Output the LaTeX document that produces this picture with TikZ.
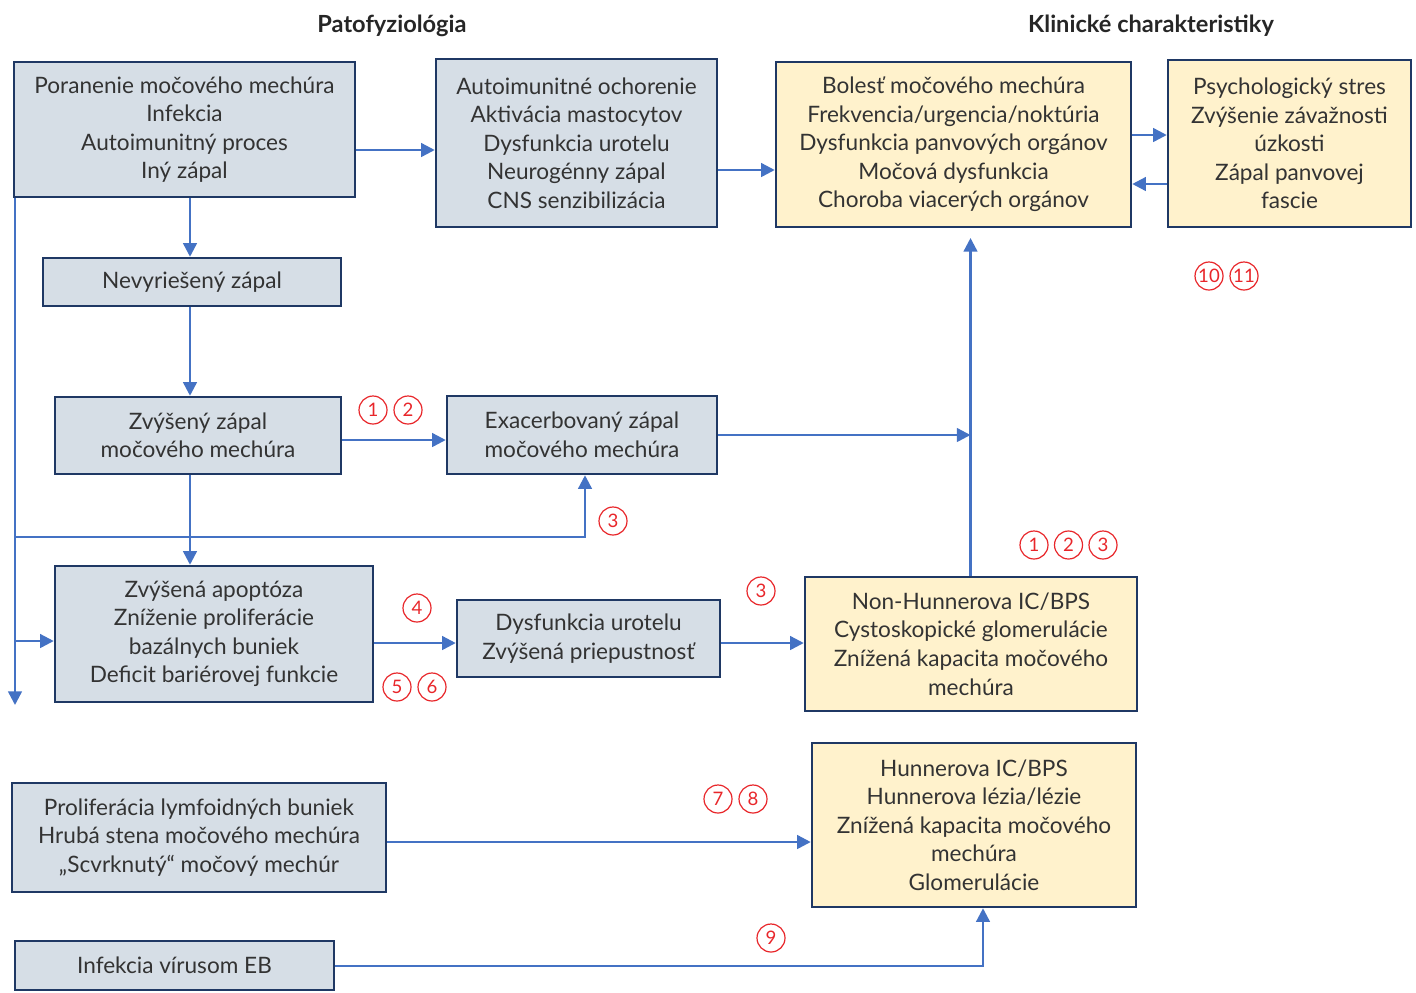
\documentclass[tikz,border=0pt]{standalone}
\usepackage{fontspec}
\setmainfont{Lato}
\usetikzlibrary{arrows.meta}
\definecolor{boxgray}{HTML}{D6DEE6}
\definecolor{boxyel}{HTML}{FFF2CC}
\definecolor{navy}{HTML}{1F3864}
\definecolor{arrblue}{HTML}{4472C4}
\definecolor{numred}{HTML}{E8262A}
\definecolor{txt}{HTML}{333333}
\tikzset{
  basebox/.style={draw=navy, line width=1.25pt, align=center, inner sep=0pt, text=txt,
    font=\fontsize{11.3pt}{14.25pt}\selectfont},
  gbox/.style={basebox, fill=boxgray},
  ybox/.style={basebox, fill=boxyel},
  arr/.style={draw=arrblue, line width=1.2pt, -{Triangle[length=6.8pt,width=6.8pt]}},
  num/.style={draw=numred, text=numred, circle, line width=0.6pt, minimum size=14pt, inner sep=0pt,
    font=\fontsize{9.3pt}{9.3pt}\selectfont},
  head/.style={font=\fontsize{11.8pt}{13pt}\selectfont\bfseries, text=black!85}
}
\begin{document}
\begin{tikzpicture}[x=0.5pt,y=-0.5pt]
\useasboundingbox (0,0) rectangle (1416,992);
\node[head] (h1) at (392,26) {Patofyziológia};
\node[head] (h2) at (1151,26) {Klinické charakteristiky};

\node[gbox, minimum width=170.5pt, minimum height=67.5pt] (A) at (184.5,129.5)
  {Poranenie močového mechúra\\Infekcia\\Autoimunitný proces\\Iný zápal};
\node[gbox, minimum width=140.5pt, minimum height=84pt] (B) at (576.5,143)
  {Autoimunitné ochorenie\\Aktivácia mastocytov\\Dysfunkcia urotelu\\Neurogénny zápal\\CNS senzibilizácia};
\node[ybox, minimum width=177.5pt, minimum height=82.5pt] (C) at (953.5,144.5)
  {Bolesť močového mechúra\\Frekvencia/urgencia/noktúria\\Dysfunkcia panvových orgánov\\Močová dysfunkcia\\Choroba viacerých orgánov};
\node[ybox, minimum width=121.5pt, minimum height=83.5pt] (D) at (1289.5,143.5)
  {Psychologický stres\\Zvýšenie závažnosti\\úzkosti\\Zápal panvovej\\fascie};
\node[gbox, minimum width=149pt, minimum height=24pt] (E) at (192,282) {Nevyriešený zápal};
\node[gbox, minimum width=143pt, minimum height=38.5pt] (F) at (198,435.5) {Zvýšený zápal\\močového mechúra};
\node[gbox, minimum width=135pt, minimum height=39pt] (G) at (582,435) {Exacerbovaný zápal\\močového mechúra};
\node[gbox, minimum width=159pt, minimum height=68pt] (H) at (214,634)
  {Zvýšená apoptóza\\Zníženie proliferácie\\bazálnych buniek\\Deficit bariérovej funkcie};
\node[gbox, minimum width=131.5pt, minimum height=38.5pt] (I) at (588.5,638.5) {Dysfunkcia urotelu\\Zvýšená priepustnosť};
\node[ybox, minimum width=166pt, minimum height=67pt] (J) at (971,644)
  {Non-Hunnerova IC/BPS\\Cystoskopické glomerulácie\\Znížená kapacita močového\\mechúra};
\node[ybox, minimum width=162pt, minimum height=82pt] (K) at (974,825)
  {Hunnerova IC/BPS\\Hunnerova lézia/lézie\\Znížená kapacita močového\\mechúra\\Glomerulácie};
\node[gbox, minimum width=187pt, minimum height=54.5pt] (L) at (199,837.5)
  {Proliferácia lymfoidných buniek\\Hrubá stena močového mechúra\\„Scvrknutý“ močový mechúr};
\node[gbox, minimum width=159.5pt, minimum height=24.5pt] (M) at (174.5,965.5) {Infekcia vírusom EB};

% connectors
\draw[arr] (A.east |- 0,150) -- (B.west |- 0,150);
\draw[arr] (B.east |- 0,170) -- (C.west |- 0,170);
\draw[arr] (C.east |- 0,135) -- (D.west |- 0,135);
\draw[arr] (D.west |- 0,184) -- (C.east |- 0,184);
\draw[arr] (190,0 |- A.south) -- (190,0 |- E.north);
\draw[arr] (190,0 |- E.south) -- (190,0 |- F.north);
\draw[arr] (F.east |- 0,440) -- (G.west |- 0,440);
\coordinate (Cin) at (970.5,238);
\draw[arr] (G.east |- 0,435) -- (970.5,435);
\draw[arr] (970.5,0 |- J.north) -- (Cin);
\draw[arr] (190,0 |- F.south) -- (190,0 |- H.north);
\coordinate (tend) at (15,705);
\draw[arr] (15,0 |- A.south) -- (tend);
\coordinate (b1) at (15,537);
\draw[arr] (b1) -- (585,537) -- (585,0 |- G.south);
\coordinate (b2) at (15,641);
\draw[arr] (b2) -- (H.west |- 0,641);
\draw[arr] (H.east |- 0,643) -- (I.west |- 0,643);
\draw[arr] (I.east |- 0,643) -- (J.west |- 0,643);
\draw[arr] (L.east |- 0,842) -- (K.west |- 0,842);
\draw[arr] (M.east |- 0,966) -- (983,966) -- (983,0 |- K.south);

% numbers
\node[num] (n1) at (373,410) {1};
\node[num] (n2) at (408,410) {2};
\node[num] (n3) at (613,521) {3};
\node[num] (n4) at (1034,545) {1};
\node[num] (n5) at (1068.5,545) {2};
\node[num] (n6) at (1103,545) {3};
\node[num] (n7) at (417,608) {4};
\node[num] (n8) at (397,687) {5};
\node[num] (n9) at (432,687) {6};
\node[num] (n10) at (761,591) {3};
\node[num] (n11) at (1209,276) {10};
\node[num] (n12) at (1244,276) {11};
\node[num] (n13) at (718,799) {7};
\node[num] (n14) at (753,799) {8};
\node[num] (n15) at (771,938) {9};
\end{tikzpicture}
\end{document}
